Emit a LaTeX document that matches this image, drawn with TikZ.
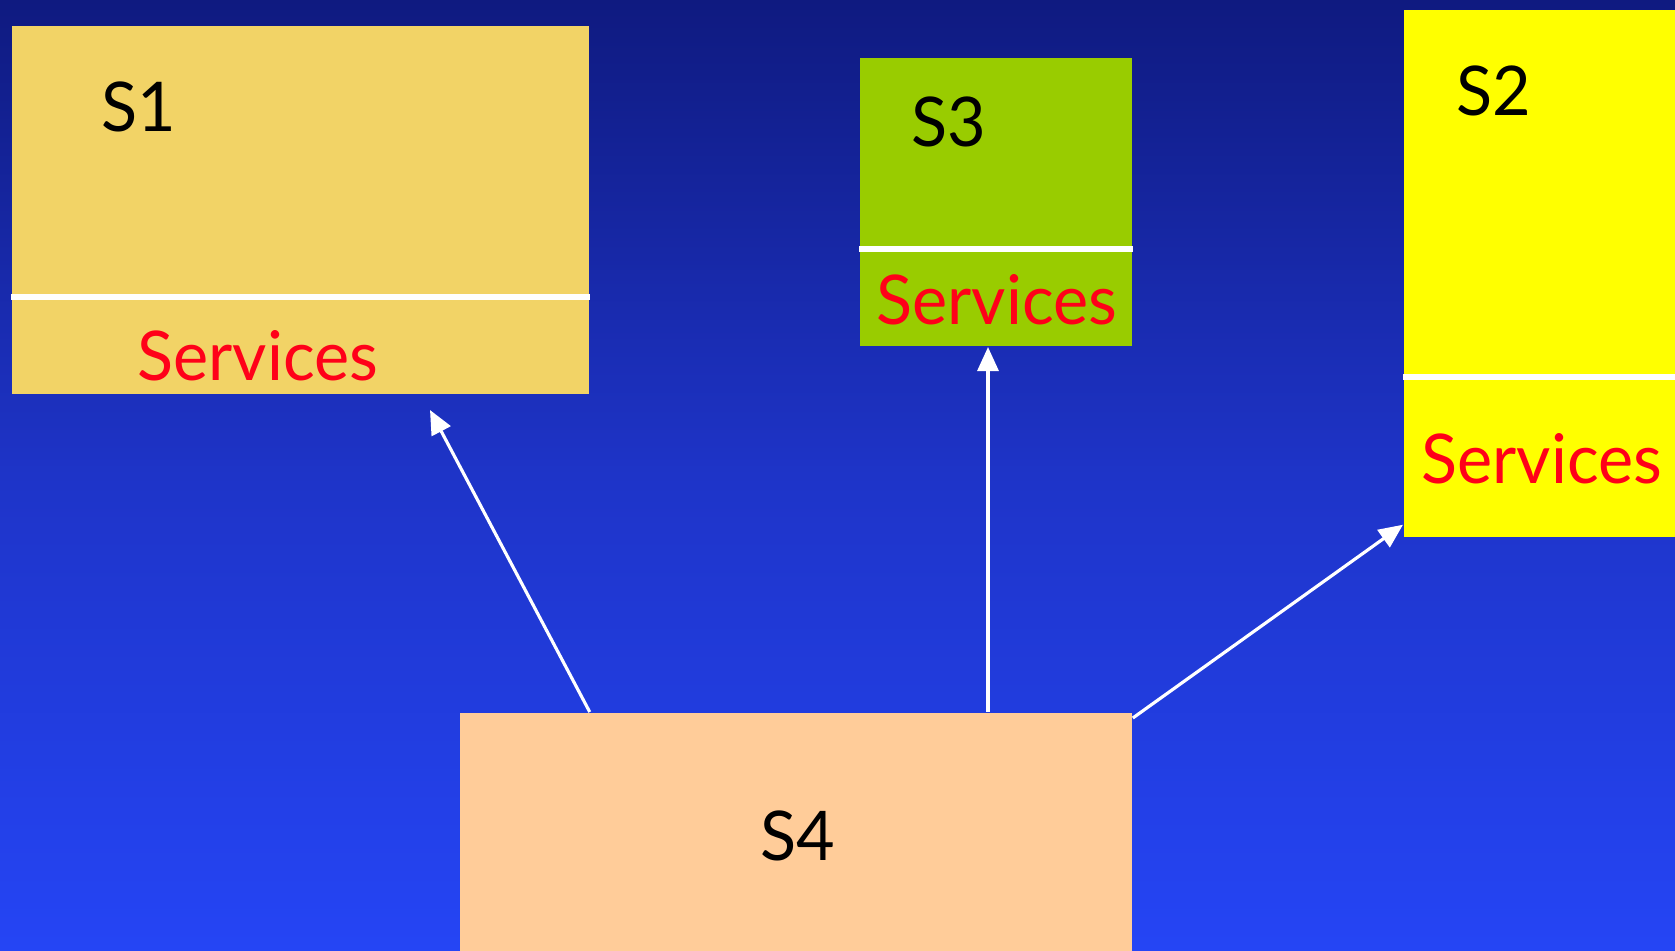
\documentclass[tikz,border=0pt]{standalone}
\usepackage{fontspec}
\setmainfont[FakeStretch=0.97]{Lato}
\usetikzlibrary{arrows.meta}

\definecolor{navytop}{HTML}{0F1A80}
\definecolor{bluemid}{HTML}{1E34C8}
\definecolor{bluebot}{HTML}{2545F5}
\definecolor{sandbox}{HTML}{F2D366}
\definecolor{limebox}{HTML}{99CC00}
\definecolor{lemonbox}{HTML}{FFFF00}
\definecolor{peachbox}{HTML}{FFCC99}
\definecolor{servred}{HTML}{FF0019}

\begin{document}
\begin{tikzpicture}[
    x=0.01cm, y=-0.01cm,
    sys/.style={
      rectangle, anchor=north west, inner sep=0pt, draw=none
    },
    sep/.style={white, line width=1.7pt},
    syslabel/.style={anchor=base west, inner sep=0pt, font=\fontsize{19.5}{22}\selectfont},
    serv/.style={syslabel, text=servred},
    link/.style={white, line width=0.9pt, -{Triangle[length=0.24cm, width=0.21cm]}}
  ]
    % sky-blue backdrop
    \shade[top color=navytop, bottom color=bluebot, middle color=bluemid]
      (0,0) rectangle (1675,950);
    \useasboundingbox (0,0) rectangle (1675,950);

    % the four systems
    \node[sys, fill=sandbox,  minimum width=5.77cm, minimum height=3.68cm] (s1) at (11,25) {};
    \node[sys, fill=limebox,  minimum width=2.72cm, minimum height=2.88cm] (s3) at (859,57) {};
    \node[sys, fill=lemonbox, minimum width=2.90cm, minimum height=5.27cm] (s2) at (1403,9) {};
    \node[sys, fill=peachbox, minimum width=6.72cm, minimum height=2.50cm] (s4) at (459,712) {};

    % service compartments
    \draw[sep] (s1.west |- 0,297) -- (s1.east |- 0,297);
    \draw[sep] (s3.west |- 0,249) -- (s3.east |- 0,249);
    \draw[sep] (s2.west |- 0,377) -- (s2.east |- 0,377);

    % labels
    \node[syslabel] (n1) at (101,131) {S1};
    \node[serv] (v1) at (137,380) {Services};
    \node[syslabel] (n3) at (911,146) {S3};
    \node[serv] (v3) at (876,324) {Services};
    \node[syslabel] (n2) at (1456,115) {S2};
    \node[serv] (v2) at (1421,483) {Services};
    \node[syslabel] (n4) at (760,860) {S4};

    % calls from S4
    \coordinate (t1) at (430,410);
    \coordinate (t3) at (988,347);
    \draw[link] (s4.north -| s1.east) -- (t1);
    \draw[link] (t3 |- s4.north) -- (t3);
    \draw[link] ([yshift=-0.06cm]s4.north east) -- ([yshift=0.13cm]s2.south west);
  \end{tikzpicture}
\end{document}
